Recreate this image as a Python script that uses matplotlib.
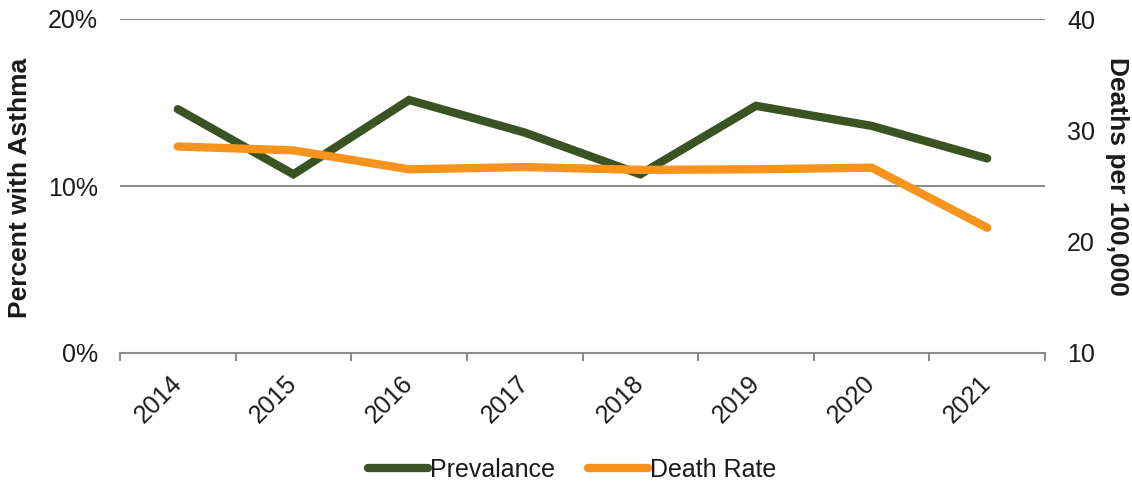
import matplotlib
matplotlib.use("Agg")
import matplotlib.pyplot as plt
from matplotlib.ticker import FixedLocator, FuncFormatter

plt.rcParams["font.family"] = ["Liberation Sans", "DejaVu Sans"]

years = ["2014", "2015", "2016", "2017", "2018", "2019", "2020", "2021"]
prevalence = [14.6, 10.7, 15.15, 13.2, 10.7, 14.8, 13.6, 11.65]   # percent with asthma
death_rate = [28.55, 28.2, 26.5, 26.7, 26.45, 26.5, 26.65, 21.25]  # deaths per 100,000

green = "#3B5323"
orange = "#F7941D"
grid_gray = "#8C8C8C"
text_color = "#1A1A1A"

fig = plt.figure(figsize=(11.32, 4.87), dpi=100)
ax = fig.add_axes([120 / 1132, 1 - 353 / 487, (1045 - 120) / 1132, (353 - 19) / 487])
ax2 = ax.twinx()

x = list(range(len(years)))
l1, = ax.plot(x, prevalence, color=green, lw=6, solid_capstyle="round",
              solid_joinstyle="miter", label="Prevalance", zorder=3)
l2, = ax2.plot(x, death_rate, color=orange, lw=6, solid_capstyle="round",
               solid_joinstyle="miter", label="Death Rate", zorder=3)

ax.set_xlim(-0.5, len(years) - 0.5)
ax.set_ylim(0, 20)
ax2.set_ylim(10, 40)

ax.set_yticks([0, 10, 20])
ax.yaxis.set_major_formatter(FuncFormatter(lambda v, p: f"{v:.0f}%"))
ax2.set_yticks([10, 20, 30, 40])

# gridlines
for v in [10, 20]:
    ax.axhline(v, color=grid_gray, lw=1.5, zorder=1)

for s in ["top", "left", "right"]:
    ax.spines[s].set_visible(False)
    ax2.spines[s].set_visible(False)
ax2.spines["bottom"].set_visible(False)
ax.spines["bottom"].set_color(grid_gray)
ax.spines["bottom"].set_linewidth(1.5)

ax.tick_params(axis="y", length=0, labelsize=18, pad=16, labelcolor=text_color)
ax2.tick_params(axis="y", length=0, labelsize=18, pad=16, labelcolor=text_color)

# category labels at centers, tick marks at boundaries
ax.set_xticks(x)
ax.set_xticklabels(years, rotation=45, ha="right", va="center",
                   rotation_mode="anchor")
ax.tick_params(axis="x", which="major", length=0, labelsize=18, pad=19,
               labelcolor=text_color)
ax.xaxis.set_minor_locator(FixedLocator([i - 0.5 for i in range(len(years) + 1)]))
ax.tick_params(axis="x", which="minor", length=5.5, width=1.5, color=grid_gray,
               direction="out")

fig.text(20 / 1132, 1 - 188 / 487, "Percent with Asthma", rotation=90,
         ha="center", va="center", fontsize=19, fontweight="bold",
         color=text_color)
fig.text(1117 / 1132, 1 - 176 / 487, "Deaths per 100,000", rotation=270,
         ha="center", va="center", fontsize=19, fontweight="bold",
         color=text_color)

leg = fig.legend([l1, l2], ["Prevalance", "Death Rate"], loc="center",
                 bbox_to_anchor=(572 / 1132, 1 - 470 / 487), ncol=2,
                 frameon=False, fontsize=18, handlelength=2.4,
                 handletextpad=0.1, columnspacing=1.3)
for t in leg.get_texts():
    t.set_color(text_color)

fig.savefig("out.png", dpi=100)
